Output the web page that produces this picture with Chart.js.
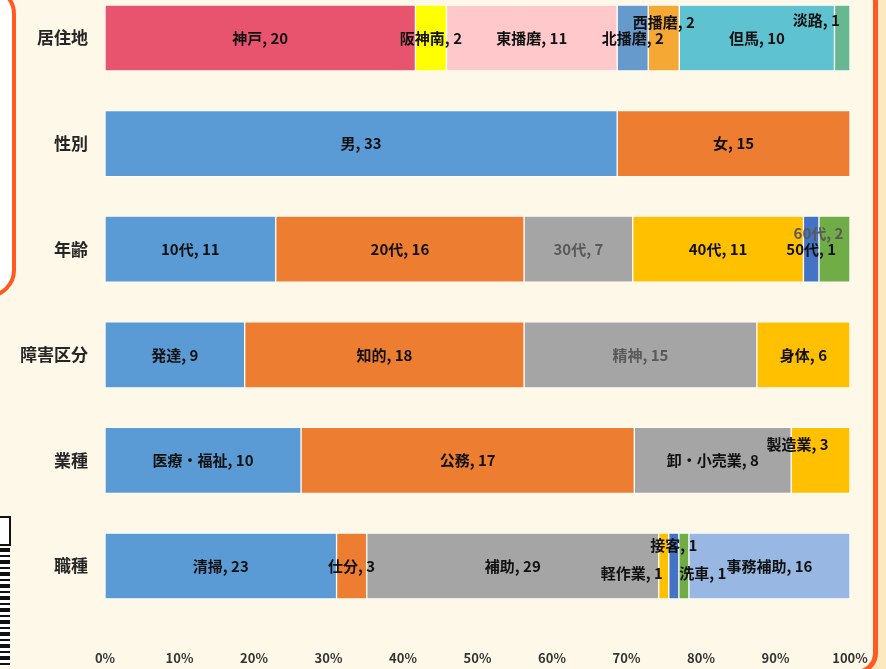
<!DOCTYPE html>
<html lang="ja">
<head>
<meta charset="utf-8">
<title>属性別 内訳</title>
<script src="https://cdn.jsdelivr.net/npm/chart.js@4.4.1/dist/chart.umd.min.js"></script>
<style>
  html, body { margin: 0; padding: 0; }
  body {
    width: 886px; height: 669px; overflow: hidden; position: relative;
    background: #fde9bf;
    font-family: "Noto Sans CJK JP", "Noto Sans", sans-serif;
  }
  /* cream panel with orange frame */
  .panel {
    position: absolute; left: -20px; top: -20px; width: 898px; height: 695px;
    box-sizing: border-box; background: #fef8e8;
    border: 5px solid #ff5a1f; border-radius: 22px;
  }
  /* white box at top-left, its edge shows as a rounded orange bracket */
  .bracket {
    position: absolute; left: -60px; top: -14px; width: 76px; height: 312px;
    box-sizing: border-box; background: #fff;
    border: 4px solid #ff5a1f; border-radius: 28px;
  }
  .qr-top {
    position: absolute; left: 0; top: 516px; width: 9px; height: 26px;
    border: 2px solid #111; border-left: none; background: #fff;
  }
  .qr-rest {
    position: absolute; left: 0; top: 548px; width: 10px; height: 118px;
    background: repeating-linear-gradient(180deg, #111 0 4px, #fff 4px 7px, #111 7px 9px, #fff 9px 12px);
  }
  .chart-box { position: absolute; left: 0; top: 0; width: 886px; height: 669px; }
</style>
</head>
<body>
<div class="panel"></div>
<div class="bracket"></div>
<div class="qr-top"></div>
<div class="qr-rest"></div>
<div class="chart-box"><canvas id="breakdown-chart"></canvas></div>

<script>
// ============================================
// 属性別 内訳 — 100% stacked bars
// ============================================

const rowLabels = ['居住地', '性別', '年齢', '障害区分', '業種', '職種'];

const residenceNames = ['神戸', '阪神南', '東播磨', '北播磨', '西播磨', '但馬', '淡路'];
const residenceCounts = [20, 2, 11, 2, 2, 10, 1];

const genderNames = ['男', '女'];
const genderCounts = [33, 15];

const ageNames = ['10代', '20代', '30代', '40代', '50代', '60代'];
const ageCounts = [11, 16, 7, 11, 1, 2];

const disabilityNames = ['発達', '知的', '精神', '身体'];
const disabilityCounts = [9, 18, 15, 6];

const industryNames = ['医療・福祉', '公務', '卸・小売業', '製造業'];
const industryCounts = [10, 17, 8, 3];

const jobNames = ['清掃', '仕分', '補助', '軽作業', '接客', '洗車', '事務補助'];
const jobCounts = [23, 3, 29, 1, 1, 1, 16];

const tickLabels = ['0%', '10%', '20%', '30%', '40%', '50%', '60%', '70%', '80%', '90%', '100%'];

// colours
const officeColors = ['#5b9bd5', '#ed7d31', '#a5a5a5', '#ffc000', '#4472c4', '#70ad47'];
const residenceColors = ['#e8546e', '#ffff00', '#ffc9cc', '#6699cc', '#f5a833', '#5ec2d0', '#66b890'];
const jobColors = [...officeColors, '#98b8e3'];

// labels nudged off-centre where they overlap in the original
const labelShift = {
  '西播磨': [0, -16], '淡路': [-26, -18],
  '60代': [-16, -16],
  '製造業': [-23, -16],
  '接客': [0, -21], '軽作業': [-32, 7], '洗車': [19, 7]
};
const grayLabels = ['30代', '精神', '60代'];

const rows = [
  { names: residenceNames, counts: residenceCounts, colors: residenceColors },
  { names: genderNames, counts: genderCounts, colors: officeColors },
  { names: ageNames, counts: ageCounts, colors: officeColors },
  { names: disabilityNames, counts: disabilityCounts, colors: officeColors },
  { names: industryNames, counts: industryCounts, colors: officeColors },
  { names: jobNames, counts: jobCounts, colors: jobColors }
];

const FONT = '"Noto Sans CJK JP", "Noto Sans", sans-serif';
Chart.defaults.font.family = FONT;

// one dataset per segment slot, values as share of the row total
const maxSegs = Math.max(...rows.map(r => r.counts.length));
const datasets = [];
for (let i = 0; i < maxSegs; i++) {
  datasets.push({
    data: rows.map(r => {
      if (r.counts[i] == null) return null;
      const total = r.counts.reduce((a, b) => a + b, 0);
      return r.counts[i] / total * 100;
    }),
    backgroundColor: rows.map(r => r.colors[i] || 'transparent'),
    borderColor: 'rgba(255,255,255,0.85)',
    borderWidth: 1,
    borderSkipped: false,
    barThickness: 66,
    clip: false
  });
}

const segmentLabels = {
  id: 'segmentLabels',
  afterDatasetsDraw(chart) {
    const ctx = chart.ctx;
    ctx.save();
    ctx.font = `bold 15px ${FONT}`;
    ctx.textAlign = 'center';
    ctx.textBaseline = 'middle';
    chart.data.datasets.forEach((ds, i) => {
      chart.getDatasetMeta(i).data.forEach((bar, r) => {
        const row = rows[r];
        if (row.counts[i] == null) return;
        const name = row.names[i];
        const shift = labelShift[name] || [0, 0];
        const c = bar.getCenterPoint();
        ctx.fillStyle = grayLabels.includes(name) ? '#595959' : '#111';
        ctx.fillText(`${name}, ${row.counts[i]}`, c.x + shift[0], c.y + shift[1]);
      });
    });
    ctx.restore();
  }
};

new Chart(document.getElementById('breakdown-chart'), {
  type: 'bar',
  data: { labels: rowLabels, datasets },
  options: {
    indexAxis: 'y',
    responsive: true, maintainAspectRatio: false,
    animation: false,
    layout: { padding: { top: 38, right: 36, bottom: 0, left: 0 } },
    plugins: { legend: { display: false }, tooltip: { enabled: false } },
    scales: {
      x: {
        stacked: true, min: 0, max: 100,
        grid: { display: false, drawTicks: false }, border: { display: false },
        ticks: {
          stepSize: 10, padding: 84, color: '#333',
          font: { size: 13, weight: 'bold' },
          callback: (v, i) => tickLabels[i]
        },
        afterFit(s) {
          // big tick padding only pushes labels down, not sideways
          s.height = 103;
          s.paddingLeft = 4;
          s.paddingRight = 20;
        }
      },
      y: {
        stacked: true, offset: false,
        grid: { display: false, drawTicks: false }, border: { display: false },
        ticks: { padding: 17, color: '#262626', font: { size: 17, weight: 'bold' } },
        afterFit(s) { s.width = 105; }
      }
    }
  },
  plugins: [segmentLabels]
});
</script>
</body>
</html>
